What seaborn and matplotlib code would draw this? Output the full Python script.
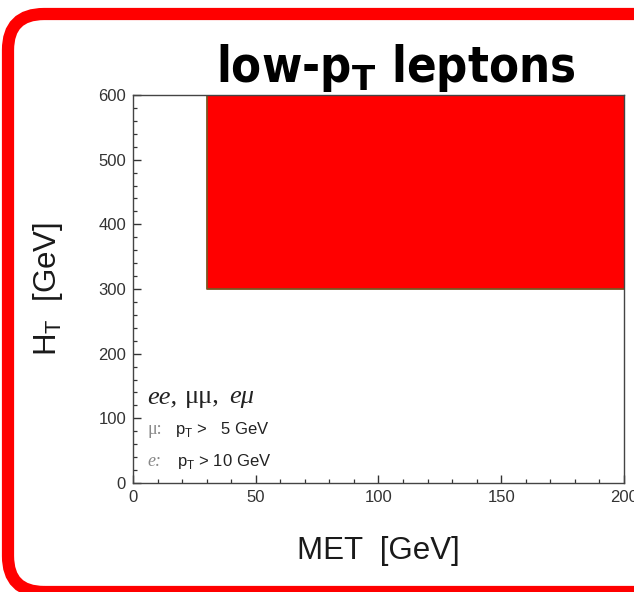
import matplotlib
matplotlib.use("Agg")
import matplotlib.pyplot as plt
import matplotlib.transforms as mtransforms
from matplotlib.patches import FancyBboxPatch
from matplotlib.ticker import MultipleLocator
import seaborn as sns
import pandas as pd

# Signal-region definition for the low-pT dilepton selection
met_range = [0, 200]
ht_range = [0, 600]
met_cut = 30
ht_cut = 300
x_ticks = [0, 50, 100, 150, 200]
y_ticks = [0, 100, 200, 300, 400, 500, 600]

sns.set_style("ticks")
plt.rcParams["font.family"] = ["Liberation Sans", "DejaVu Sans"]
plt.rcParams["mathtext.fontset"] = "custom"
plt.rcParams["mathtext.rm"] = "Liberation Sans"
plt.rcParams["mathtext.bf"] = "DejaVu Sans:bold"

fig = plt.figure(figsize=(6.34, 5.92), dpi=100)
ax = fig.add_axes([0.2098, 0.1841, 0.7744, 0.6554])

# selected region: MET > cut and HT > cut
ax.fill_between([met_cut, met_range[1]], ht_cut, ht_range[1],
                color="#ff0000", linewidth=0, zorder=2)
edge = pd.DataFrame({"MET": [met_cut, met_cut, met_range[1]],
                     "HT": [ht_range[1], ht_cut, ht_cut]})
sns.lineplot(data=edge, x="MET", y="HT", sort=False, estimator=None,
             color="#7a5522", linewidth=1.3, ax=ax, zorder=3)

ax.set_xlim(*met_range)
ax.set_ylim(*ht_range)
ax.set_xticks(x_ticks)
ax.set_yticks(y_ticks)
ax.xaxis.set_minor_locator(MultipleLocator(10))
ax.yaxis.set_minor_locator(MultipleLocator(20))
ax.tick_params(which="major", direction="in", length=5.5, width=1.0,
               color="#333333", labelsize=12, labelcolor="#333333", pad=5)
ax.tick_params(which="minor", direction="in", length=3, width=0.9,
               color="#333333")
for side in ax.spines.values():
    side.set_color("#444444")
    side.set_linewidth(1.0)
    side.set_zorder(4)

ax.set_xlabel("MET  [GeV]", fontsize=22.5, color="#1a1a1a", labelpad=22)
ax.set_ylabel(r"H$_\mathregular{T}$  [GeV]", fontsize=22.5, color="#1a1a1a",
              labelpad=24)
ax.set_xticklabels([str(v) for v in x_ticks])
ax.set_yticklabels([str(v) for v in y_ticks])

fig.text(0.624, 0.885, r"low-p$_\mathbf{T}$ leptons", ha="center",
         va="center", fontsize=35, fontweight="bold", fontstretch="condensed",
         family="DejaVu Sans", color="black")

# channel / lepton threshold notes
ax.text(0.029, 0.206, "ee,", transform=ax.transAxes, fontsize=19,
        family="Liberation Serif", style="italic", color="#222222")
ax.text(0.105, 0.206, "μμ,", transform=ax.transAxes, fontsize=19,
        family="Liberation Serif", color="#222222")
ax.text(0.196, 0.206, "eμ", transform=ax.transAxes, fontsize=19,
        family="Liberation Serif", style="italic", color="#222222")
ax.text(0.029, 0.126, "μ:", transform=ax.transAxes, fontsize=13,
        family="Liberation Serif", color="#888888")
ax.text(0.085, 0.126, r"p$_\mathregular{T}$ >   5 GeV",
        transform=ax.transAxes, fontsize=12, color="#222222")
ax.text(0.029, 0.044, "e:", transform=ax.transAxes, fontsize=13,
        family="Liberation Serif", style="italic", color="#888888")
ax.text(0.090, 0.044, r"p$_\mathregular{T}$ > 10 GeV",
        transform=ax.transAxes, fontsize=12, color="#222222")

# red rounded frame around the panel (pixel coordinates)
frame = FancyBboxPatch((8, 0), 720, 578,
                       boxstyle="round,pad=0,rounding_size=36",
                       transform=mtransforms.IdentityTransform(),
                       facecolor="none", edgecolor="#ff0000",
                       linewidth=8.8, zorder=10)
fig.patches.append(frame)

fig.savefig("out.png", dpi=100)
